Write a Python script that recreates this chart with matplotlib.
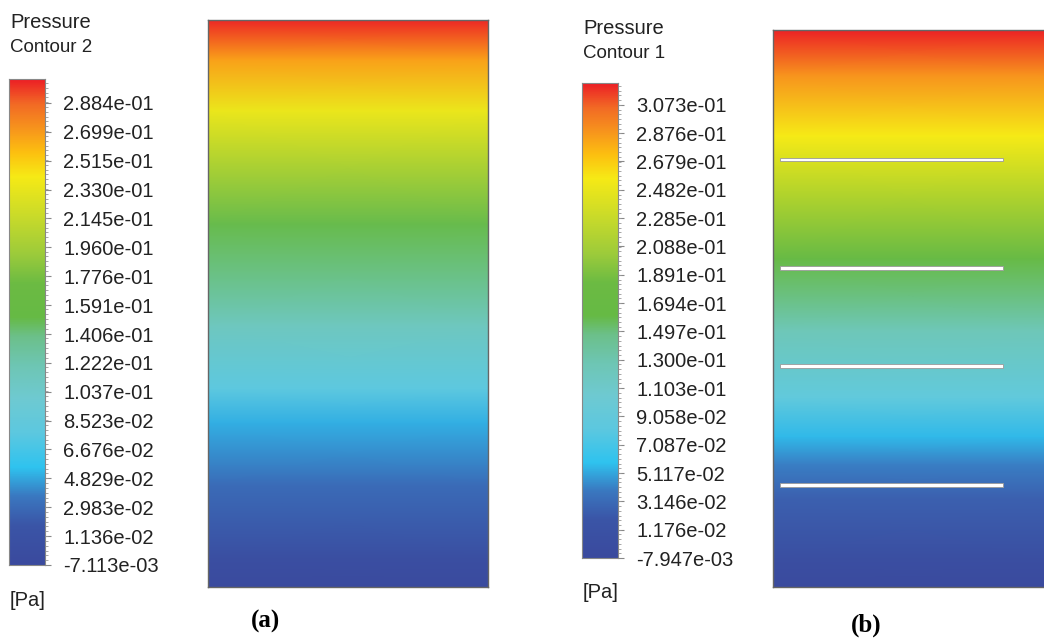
import numpy as np
import matplotlib.pyplot as plt
from matplotlib.colors import LinearSegmentedColormap, Normalize
from matplotlib.patches import Rectangle

plt.rcParams["font.family"] = ["Liberation Sans", "DejaVu Sans"]

# legend labels [Pa], top to bottom
levels_a = [2.884e-01, 2.699e-01, 2.515e-01, 2.330e-01, 2.145e-01, 1.960e-01,
            1.776e-01, 1.591e-01, 1.406e-01, 1.222e-01, 1.037e-01, 8.523e-02,
            6.676e-02, 4.829e-02, 2.983e-02, 1.136e-02, -7.113e-03]
levels_b = [3.073e-01, 2.876e-01, 2.679e-01, 2.482e-01, 2.285e-01, 2.088e-01,
            1.891e-01, 1.694e-01, 1.497e-01, 1.300e-01, 1.103e-01, 9.058e-02,
            7.087e-02, 5.117e-02, 3.146e-02, 1.176e-02, -7.947e-03]

# pressure along the tank height (0 = bottom, 1 = top)
height_a = [0.0, 0.05, 0.18, 0.29, 0.35, 0.46, 0.64, 0.84, 0.93, 1.0]
pressure_a = [-0.007, 0.002, 0.030, 0.050, 0.078, 0.112, 0.150, 0.235, 0.268, 0.302]
height_b = [0.0, 0.05, 0.16, 0.22, 0.27, 0.34, 0.46, 0.59, 0.81, 0.92, 1.0]
pressure_b = [-0.008, 0.002, 0.025, 0.040, 0.056, 0.088, 0.125, 0.165, 0.256, 0.290, 0.322]

# baffle plates in case (b), as fractions of the domain height
baffle_y = [0.767, 0.573, 0.397, 0.183]

# Fluent-style rainbow legend
cmap = LinearSegmentedColormap.from_list("fluent", [
    (0.00, "#3a4a9e"), (0.08, "#3b55a7"), (0.14, "#3a78c0"), (0.20, "#2fc3ef"),
    (0.27, "#5cc8e0"), (0.34, "#6ecad2"), (0.41, "#6ec6b4"), (0.47, "#6cc08a"),
    (0.51, "#66ba45"), (0.58, "#6cbb43"), (0.64, "#9ccb3b"), (0.72, "#cadb2a"),
    (0.80, "#f6ea16"), (0.85, "#fdc010"), (0.90, "#f7941d"), (0.95, "#f26a25"),
    (1.00, "#ec2025")])

W, H = 1044, 640
fig = plt.figure(figsize=(W / 100, H / 100), dpi=100)


def px_axes(left, top, right, bottom):
    return fig.add_axes([left / W, 1 - bottom / H, (right - left) / W, (bottom - top) / H])


def legend_bar(box, levels, vmin, vmax, title, sub, tx, ty):
    ax = px_axes(*box)
    grad = np.linspace(vmin, vmax, 256).reshape(-1, 1)
    ax.imshow(grad, cmap=cmap, norm=Normalize(vmin, vmax), aspect="auto",
              origin="lower", extent=(0, 1, vmin, vmax))
    ax.set_xlim(0, 1)
    ax.set_ylim(vmin, vmax)
    ax.set_xticks([])
    ax.yaxis.tick_right()
    ax.set_yticks(levels)
    ax.set_yticklabels([f"{v:.3e}" for v in levels], fontsize=14.5, color="#222222")
    step = levels[0] - levels[1]
    ax.set_yticks(np.arange(levels[-1], vmax, step / 6), minor=True)
    ax.tick_params(axis="y", which="major", length=4, width=0.8, color="#888888", pad=9)
    ax.tick_params(axis="y", which="minor", length=2, width=0.6, color="#999999")
    for s in ax.spines.values():
        s.set_color("#888888")
        s.set_linewidth(0.8)
    fig.text(tx / W, 1 - ty / H, title, fontsize=14.5, color="#222222", va="center")
    fig.text(tx / W, 1 - (ty + 26) / H, sub, fontsize=13.5, color="#222222", va="center")
    return ax


def field(box, heights, values, vmin, vmax, xmax=1.0):
    ax = px_axes(*box)
    C = np.column_stack([values, values])
    ax.pcolormesh([0, xmax], heights, C, cmap=cmap, shading="gouraud",
                  norm=Normalize(vmin, vmax))
    ax.set_xlim(0, 1)
    ax.set_ylim(0, 1)
    ax.set_xticks([])
    ax.set_yticks([])
    for s in ax.spines.values():
        s.set_color("#666666")
        s.set_linewidth(1.0)
    return ax


# case (a): empty tank
legend_bar((9, 79, 45, 565), levels_a, -7.113e-03, 0.3037, "Pressure", "Contour 2", 10, 22)
fig.text(10 / W, 1 - 601 / H, "[Pa]", fontsize=14.5, color="#222222", va="center")
field((208, 20, 488, 587), height_a, pressure_a, -7.113e-03, 0.3037)
fig.text(266 / W, 1 - 621 / H, "(a)", fontsize=18, fontweight="bold",
         family="Liberation Serif", ha="center", va="center")

# case (b): tank with baffles, cut at the right edge
legend_bar((582, 83, 618, 558), levels_b, -7.947e-03, 0.3225, "Pressure", "Contour 1", 583, 28)
fig.text(583 / W, 1 - 593 / H, "[Pa]", fontsize=14.5, color="#222222", va="center")
axb = field((773, 30, 1044, 587), height_b, pressure_b, -7.947e-03, 0.3225)
axb.spines["right"].set_visible(False)
for y in baffle_y:
    axb.add_patch(Rectangle((0.026, y - 0.003), 0.823, 0.006, facecolor="white",
                            edgecolor="#9a9a9a", linewidth=0.6))
fig.text(866 / W, 1 - 625 / H, "(b)", fontsize=18, fontweight="bold",
         family="Liberation Serif", ha="center", va="center")

fig.savefig("out.png", dpi=100)
